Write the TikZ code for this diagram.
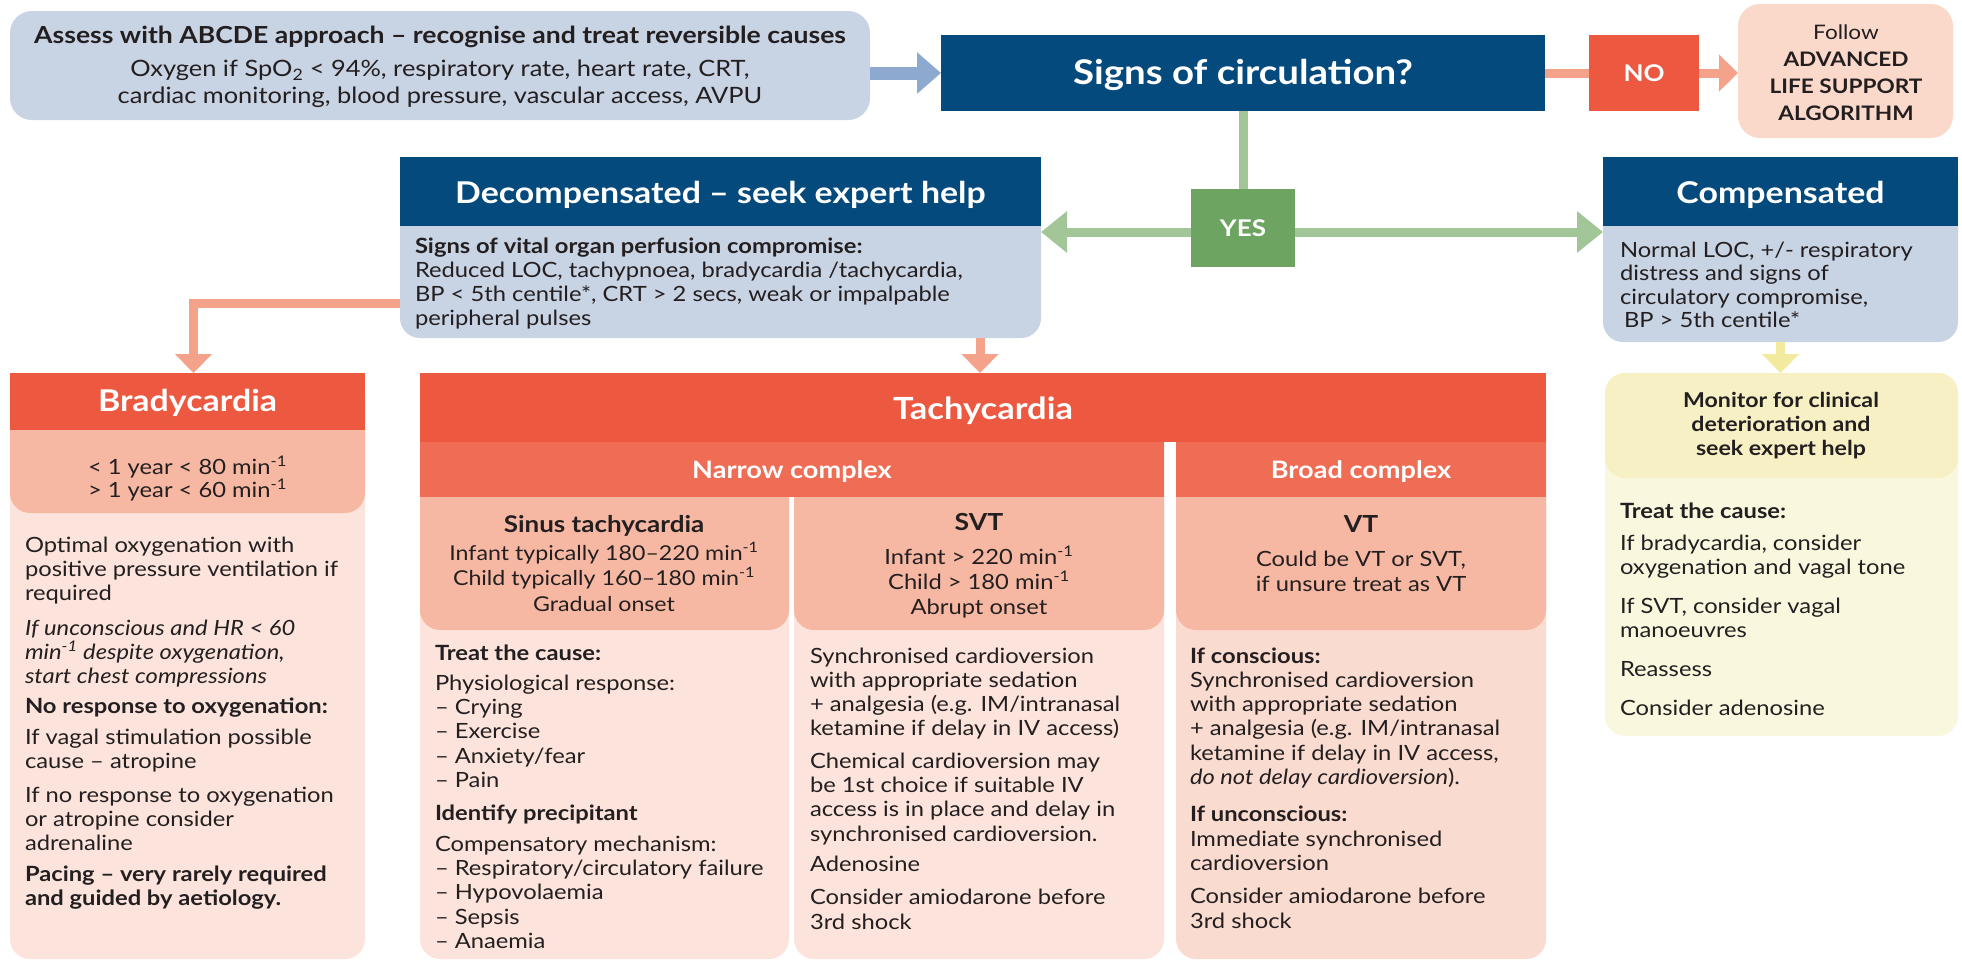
\documentclass[tikz,border=0pt]{standalone}
\usepackage{fontspec}
\setmainfont[FakeStretch=1.13]{Lato}
\usetikzlibrary{arrows.meta}
\definecolor{dblue}{HTML}{054A7C}
\definecolor{lblue}{HTML}{C8D3E4}
\definecolor{ablue}{HTML}{8EA9CF}
\definecolor{cred}{HTML}{EC5840}
\definecolor{cred2}{HTML}{EF6C55}
\definecolor{salm}{HTML}{F7B8A3}
\definecolor{pinkb}{HTML}{FCE4DC}
\definecolor{vtb}{HTML}{FADBCF}
\definecolor{salmarrow}{HTML}{F4A28A}
\definecolor{alsf}{HTML}{FAD9CB}
\definecolor{gbox}{HTML}{6DA461}
\definecolor{glinec}{HTML}{A3C699}
\definecolor{ylhead}{HTML}{F6F0C4}
\definecolor{ylbody}{HTML}{FAF7DF}
\definecolor{ylarrow}{HTML}{F2EA9E}
\definecolor{txtc}{HTML}{231F20}
\newcommand\fsz[2]{\fontsize{#1}{#2}\selectfont}
\newcommand\mn{min\textsuperscript{-1}}
\newcommand\st{\rule{0pt}{20pt}}
\newcommand\rbottom[2]{%
  \fill[#1, rounded corners=20pt] (#2.north west) rectangle (#2.south east);
  \fill[#1] (#2.north west) rectangle ([yshift=-25pt]#2.north east);}
\tikzset{
  area/.style 2 args={rectangle, inner sep=0pt, outer sep=0pt, minimum width=#1pt, minimum height=#2pt},
  tx/.style={inner sep=0pt, outer sep=0pt, text=txtc},
  wtx/.style={inner sep=0pt, outer sep=0pt, text=white},
  body/.style={font=\fsz{21}{24.3}},
  bluearrow/.style={draw=ablue, line width=13pt, -{Triangle[length=24pt,width=40pt]}},
  salline/.style={draw=salmarrow, line width=9pt},
  salarrow/.style={salline, -{Triangle[length=19pt,width=36pt]}},
  gline/.style={draw=glinec, line width=9pt},
  garrow/.style={gline, -{Triangle[length=26pt,width=40pt]}},
  yarrow/.style={draw=ylarrow, line width=9pt, -{Triangle[length=19pt,width=36pt]}},
}
\begin{document}
\begin{tikzpicture}[x=1pt,y=-1pt]
\useasboundingbox (0,0) rectangle (1962,962);
\fill[white] (0,0) rectangle (1962,962);
% ---------- box areas
\node[area={860}{109}] (abcde) at (440,65.5) {};
\node[area={604}{76}] (signs) at (1243,73) {};
\node[area={110}{76}] (no) at (1644,73) {};
\node[area={215}{134}] (als) at (1845.5,71) {};
\node[area={104}{78}] (yes) at (1243,228) {};
\node[area={641}{181}] (decomp) at (720.5,247.5) {};
\node[area={355}{185}] (comp) at (1780.5,249.5) {};
\node[area={355}{586}] (brady) at (187.5,666) {};
\node[area={1126}{586}] (tachy) at (983,666) {};
\node[area={353}{363}] (monitor) at (1781.5,554.5) {};
% ---------- fills
\fill[lblue, rounded corners=22pt] (abcde.north west) rectangle (abcde.south east);
\fill[dblue] (signs.north west) rectangle (signs.south east);
\fill[cred] (no.north west) rectangle (no.south east);
\fill[alsf, rounded corners=22pt] (als.north west) rectangle (als.south east);
\fill[gbox] (yes.north west) rectangle (yes.south east);
\rbottom{lblue}{decomp}
\fill[dblue] (decomp.north west) rectangle ([yshift=-69pt]decomp.north east);
\rbottom{lblue}{comp}
\fill[dblue] (comp.north west) rectangle ([yshift=-69pt]comp.north east);
% bradycardia
\rbottom{pinkb}{brady}
\fill[salm, rounded corners=20pt] (10,380) rectangle (365,513);
\fill[cred] (brady.north west) rectangle (365,430);
% tachycardia
\fill[pinkb, rounded corners=20pt] (420,380) rectangle (789,959);
\fill[pinkb, rounded corners=20pt] (794,380) rectangle (1164,959);
\fill[vtb, rounded corners=20pt] (1176,380) rectangle (1546,959);
\fill[salm, rounded corners=20pt] (420,380) rectangle (789,630);
\fill[salm, rounded corners=20pt] (794,380) rectangle (1164,630);
\fill[salm, rounded corners=20pt] (1176,380) rectangle (1546,630);
\fill[cred2] (420,442) rectangle (1164,497);
\fill[cred2] (1176,442) rectangle (1546,497);
\fill[cred] (tachy.north west) rectangle (1546,442);
% monitor
\fill[ylbody, rounded corners=20pt] (monitor.north west) rectangle (monitor.south east);
\fill[ylhead, rounded corners=20pt] (monitor.north west) rectangle ([yshift=-105pt]monitor.north east);
% ---------- connectors
\draw[bluearrow] (abcde.east |- signs.west) -- (signs.west);
\draw[salline] (signs.east) -- (no.west);
\draw[salarrow] (no.east) -- (no.east -| als.west);
\draw[gline] (yes.north |- signs.south) -- (yes.north);
\draw[garrow] ([yshift=-4pt]yes.west) -- ([yshift=-4pt]yes.west -| decomp.east);
\draw[garrow] ([yshift=-4pt]yes.east) -- ([yshift=-4pt]yes.east -| comp.west);
\draw[salarrow] ([yshift=35pt]decomp.south west) -| ([xshift=6pt]brady.north);
\coordinate (tcol) at (980,0);
\draw[salarrow] (tcol |- decomp.south) -- (tcol |- tachy.north);
\draw[yarrow] (comp.south) -- (comp.south |- monitor.north);
% ---------- texts
\node[tx, anchor=base, font=\fsz{23.5}{26}\bfseries] (abT) at (440,43) {Assess with ABCDE approach – recognise and treat reversible causes};
\node[tx, anchor=north, align=center, font=\fsz{22.5}{27}] (abB) at (440,56) {\st Oxygen if SpO\textsubscript{2} < 94\%, respiratory rate, heart rate, CRT,\\cardiac monitoring, blood pressure, vascular access, AVPU};
\node[wtx, anchor=base, font=\fsz{34}{38}\bfseries] (sT) at (1243,84) {Signs of circulation?};
\node[wtx, anchor=base, font=\fsz{23}{28}\bfseries] (noT) at (1644,81) {NO};
\node[tx, anchor=north, align=center, font=\fsz{20}{27}] (alsT) at (1846,19) {\st Follow\\\textbf{ADVANCED}\\\textbf{LIFE SUPPORT}\\\textbf{ALGORITHM}};
\node[wtx, anchor=base, font=\fsz{23}{28}\bfseries] (yesT) at (1243,236) {YES};
\node[wtx, anchor=base, font=\fsz{30}{34}\bfseries] (dT) at (720.5,203) {Decompensated – seek expert help};
\node[tx, anchor=north west, align=left, font=\fsz{21}{24}] (dB) at (415,233) {\st\textbf{Signs of vital organ perfusion compromise:}\\Reduced LOC, tachypnoea, bradycardia /tachycardia,\\BP < 5th centile*, CRT > 2 secs, weak or impalpable\\peripheral pulses};
\node[wtx, anchor=base, font=\fsz{30}{34}\bfseries] (cT) at (1780.5,203) {Compensated};
\node[tx, anchor=north west, align=left, font=\fsz{21}{23.6}] (cB) at (1620,237) {\st Normal LOC, +/- respiratory\\distress and signs of\\circulatory compromise,\\\hspace*{4pt}BP > 5th centile*};
% bradycardia
\node[wtx, anchor=base, font=\fsz{30}{34}\bfseries] (bT) at (187.5,411) {Bradycardia};
\node[tx, anchor=north, align=center, font=\fsz{21}{23.5}] (bS) at (187.5,454) {\st < 1 year < 80 \mn\\> 1 year < 60 \mn};
\node[tx, anchor=north west, align=left, font=\fsz{21}{24}] (bB) at (25,532) {\st Optimal oxygenation with\\positive pressure ventilation if\\required\\[11pt]\textit{If unconscious and HR < 60}\\\textit{\mn\ despite oxygenation,}\\\textit{start chest compressions}\\[6pt]\textbf{No response to oxygenation:}\\[7pt]If vagal stimulation possible\\cause – atropine\\[10pt]If no response to oxygenation\\or atropine consider\\adrenaline\\[7pt]\textbf{Pacing – very rarely required}\\\textbf{and guided by aetiology.}};
% tachycardia
\node[wtx, anchor=base, font=\fsz{30.5}{34}\bfseries] (tT) at (983,419) {Tachycardia};
\node[wtx, anchor=base, font=\fsz{24}{28}\bfseries] (nT) at (792,478) {Narrow complex};
\node[wtx, anchor=base, font=\fsz{24}{28}\bfseries] (brT) at (1361,478) {Broad complex};
\node[tx, anchor=base, font=\fsz{23}{28}\bfseries] (sinT) at (604,532) {Sinus tachycardia};
\node[tx, anchor=north, align=center, font=\fsz{20.5}{25.5}] (sinS) at (604,540) {\st Infant typically 180–220 \mn\\Child typically 160–180 \mn\\Gradual onset};
\node[tx, anchor=base, font=\fsz{23.5}{28}\bfseries] (svtT) at (979,530) {SVT};
\node[tx, anchor=north, align=center, font=\fsz{21}{25}] (svtS) at (979,544) {\st Infant > 220 \mn\\Child > 180 \mn\\Abrupt onset};
\node[tx, anchor=base, font=\fsz{23.5}{28}\bfseries] (vtT) at (1361,532) {VT};
\node[tx, anchor=north, align=center, font=\fsz{21}{25}] (vtS) at (1361,546) {\st Could be VT or SVT,\\if unsure treat as VT};
\node[tx, anchor=north west, align=left, body] (sinB) at (435,640) {\st\textbf{Treat the cause:}\\[6pt]Physiological response:\\– Crying\\– Exercise\\– Anxiety/fear\\– Pain\\[9pt]\textbf{Identify precipitant}\\[6pt]Compensatory mechanism:\\– Respiratory/circulatory failure\\– Hypovolaemia\\– Sepsis\\– Anaemia};
\node[tx, anchor=north west, align=left, body] (svtB) at (810,643) {\st Synchronised cardioversion\\with appropriate sedation\\+ analgesia (e.g. IM/intranasal\\ketamine if delay in IV access)\\[8pt]Chemical cardioversion may\\be 1st choice if suitable IV\\access is in place and delay in\\synchronised cardioversion.\\[6pt]Adenosine\\[9pt]Consider amiodarone before\\3rd shock};
\node[tx, anchor=north west, align=left, body] (vtB) at (1190,643) {\st\textbf{If conscious:}\\Synchronised cardioversion\\with appropriate sedation\\+ analgesia (e.g. IM/intranasal\\ketamine if delay in IV access,\\\textit{do not delay cardioversion}).\\[13pt]\textbf{If unconscious:}\\Immediate synchronised\\cardioversion\\[9pt]Consider amiodarone before\\3rd shock};
% monitor
\node[tx, anchor=north, align=center, font=\fsz{20.5}{24}\bfseries] (mT) at (1781,387) {\st Monitor for clinical\\deterioration and\\seek expert help};
\node[tx, anchor=north west, align=left, font=\fsz{21}{24}] (mB) at (1620,498) {\st\textbf{Treat the cause:}\\[8pt]If bradycardia, consider\\oxygenation and vagal tone\\[15pt]If SVT, consider vagal\\manoeuvres\\[15pt]Reassess\\[15pt]Consider adenosine};
\end{tikzpicture}
\end{document}
